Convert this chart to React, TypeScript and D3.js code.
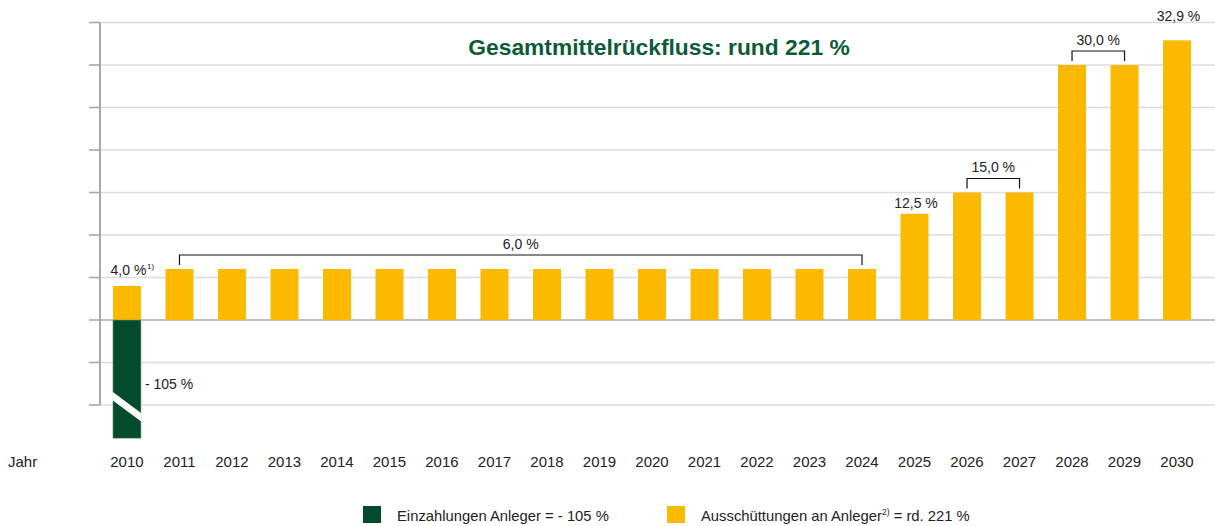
import React from "react";
import * as d3 from "d3";

const years = ["2010","2011","2012","2013","2014","2015","2016","2017","2018","2019","2020","2021","2022","2023","2024","2025","2026","2027","2028","2029","2030"];
const payouts = [4.0, 6.0, 6.0, 6.0, 6.0, 6.0, 6.0, 6.0, 6.0, 6.0, 6.0, 6.0, 6.0, 6.0, 6.0, 12.5, 15.0, 15.0, 30.0, 30.0, 32.9];
const depositYears = ["2010"];
const deposits = [-105];
const depositShownTo = -13.9; // truncated display (axis break)
const yTicks = [-10, -5, 0, 5, 10, 15, 20, 25, 30, 35];

const bracketFrom = ["2011", "2026", "2028"];
const bracketTo = ["2024", "2027", "2029"];
const bracketLabels = ["6,0 %", "15,0 %", "30,0 %"];

const singleLabelYears = ["2010", "2025", "2030"];
const singleLabels = ["4,0 %", "12,5 %", "32,9 %"];
const singleLabelSup = ["1)", "", ""];

const title = "Gesamtmittelrückfluss: rund 221 %";
const legendLabels = ["Einzahlungen Anleger = - 105 %", "Ausschüttungen an Anleger", " = rd. 221 %"];

const W = 1215, H = 526;
const FONT = "'Liberation Sans', Arial, Helvetica, sans-serif";
const YELLOW = "#FBB900";
const GREEN = "#034B2C";
const TITLE_GREEN = "#0B5B39";

export default function App() {
  const axisX = 100;
  const x = d3.scaleBand<string>().domain(years).range([axisX, 1204]).paddingInner(0.467).paddingOuter(0.247);
  const y = d3.scaleLinear().domain([-10, 35]).range([405, 22.5]);
  const bw = x.bandwidth();
  const cx = (yr: string) => (x(yr) as number) + bw / 2;

  const labelOffset: Record<string, number> = { "2010": 11, "2025": 6, "2030": 19 };

  return (
    <div style={{ position: "absolute", left: 0, top: 0 }}>
      <svg width={W} height={H} style={{ display: "block" }} fontFamily={FONT}>
        {/* gridlines */}
        {yTicks.map((t) => (
          <line key={"g" + t} x1={axisX} x2={W} y1={y(t)} y2={y(t)}
            stroke={t === 0 ? "#a8a8a8" : "#dcdcdc"} strokeWidth={t === 0 ? 1.6 : 1.4} />
        ))}
        {/* y axis */}
        <line x1={axisX} x2={axisX} y1={y(35)} y2={y(-10)} stroke="#a8a8a8" strokeWidth={2} />
        {yTicks.map((t) => (
          <line key={"t" + t} x1={89} x2={axisX} y1={y(t)} y2={y(t)} stroke="#a8a8a8" strokeWidth={1.6} />
        ))}

        {/* payout bars */}
        {years.map((yr, i) => (
          <rect key={"p" + yr} x={x(yr)} width={bw} y={y(payouts[i])} height={y(0) - y(payouts[i])} fill={YELLOW} />
        ))}

        {/* deposit bars (truncated) */}
        {depositYears.map((yr, i) => {
          const x0 = x(yr) as number;
          const x1 = x0 + bw;
          const top = y(0);
          const bot = y(Math.max(deposits[i], depositShownTo));
          return (
            <g key={"d" + yr}>
              <rect x={x0} width={bw} y={top} height={bot - top} fill={GREEN} stroke="#6f9a83" strokeWidth={0.6} />
              <polygon points={`${x0 - 0.5},${bot - 46.5} ${x1 + 0.5},${bot - 25} ${x1 + 0.5},${bot - 16.5} ${x0 - 0.5},${bot - 38}`} fill="#fff" />
              <text x={x1 + 4} y={y(-7.5) + 5.5} fontSize={14} fill="#222">{`- ${Math.abs(deposits[i])} %`}</text>
            </g>
          );
        })}

        {/* single labels */}
        {singleLabelYears.map((yr, i) => {
          const v = payouts[years.indexOf(yr)];
          const ly = y(v) - labelOffset[yr];
          return (
            <g key={"s" + yr}>
              <text x={cx(yr) + 1.5} y={ly} fontSize={14} fill="#222" textAnchor="middle">{singleLabels[i]}</text>
              {singleLabelSup[i] && (
                <text x={cx(yr) + 20} y={ly - 6} fontSize={8} fill="#222">{singleLabelSup[i]}</text>
              )}
            </g>
          );
        })}

        {/* bracket labels */}
        {bracketFrom.map((f, i) => {
          const t = bracketTo[i];
          const v = payouts[years.indexOf(f)];
          const ly = y(v) - 14;
          const xa = cx(f), xb = cx(t);
          return (
            <g key={"b" + f}>
              <path d={`M${xa},${ly + 10}V${ly}H${xb}V${ly + 10}`} fill="none" stroke="#111" strokeWidth={1.2} />
              <text x={(xa + xb) / 2} y={ly - 6.5} fontSize={14} fill="#222" textAnchor="middle">{bracketLabels[i]}</text>
            </g>
          );
        })}

        {/* title */}
        <text x={659} y={55} fontSize={22.8} fontWeight="bold" fill={TITLE_GREEN} textAnchor="middle">{title}</text>

        {/* x labels */}
        <text x={8} y={467} fontSize={15} fill="#222">Jahr</text>
        {years.map((yr) => (
          <text key={"x" + yr} x={cx(yr)} y={467} fontSize={15} fill="#222" textAnchor="middle">{yr}</text>
        ))}

        {/* legend */}
        <rect x={363} y={506} width={18} height={17} fill={GREEN} />
        <text x={397} y={521} fontSize={14.8} fill="#222">{legendLabels[0]}</text>
        <rect x={667} y={506} width={18} height={17} fill={YELLOW} />
        <text x={701} y={521} fontSize={14.8} fill="#222">
          {legendLabels[1]}
          <tspan fontSize={8.5} dy={-6}>2)</tspan>
          <tspan dy={6}>{legendLabels[2]}</tspan>
        </text>
      </svg>
    </div>
  );
}
